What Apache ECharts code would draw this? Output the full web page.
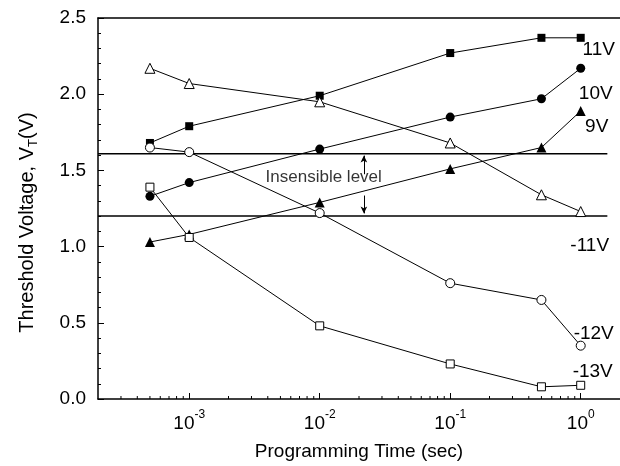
<!DOCTYPE html>
<html>
<head>
<meta charset="utf-8">
<script src="https://cdn.jsdelivr.net/npm/echarts@6/dist/echarts.min.js"></script>
<style>html,body{margin:0;padding:0;background:#fff}#c{width:620px;height:466px}</style>
</head>
<body>
<div id="c"></div>
<script>
// ---- data ----
const times = [5e-4, 1e-3, 1e-2, 1e-1, 5e-1, 1];
const seriesNames = ['11V', '10V', '9V', '-11V', '-12V', '-13V'];
const v11  = [1.68, 1.79, 1.99, 2.27, 2.37, 2.37];
const v10  = [1.33, 1.42, 1.64, 1.85, 1.97, 2.17];
const v9   = [1.03, 1.08, 1.29, 1.51, 1.65, 1.89];
const vm11 = [2.17, 2.07, 1.95, 1.68, 1.34, 1.23];
const vm12 = [1.65, 1.62, 1.22, 0.76, 0.65, 0.35];
const vm13 = [1.39, 1.06, 0.48, 0.23, 0.08, 0.09];
const levelUpper = 1.61;
const levelLower = 1.20;
const levelText = 'Insensible level';
const xMin = 2e-4, xMax = 2;
const levelXEnd = 1.6;
const yTicks = [0, 0.5, 1.0, 1.5, 2.0, 2.5];
const minorMultipliers = [2, 3, 4, 5, 6, 7, 8, 9];
const minorDecades = [1e-4, 1e-3, 1e-2, 1e-1];
const arrowX = 0.0218;
const arrowUp = [1.475, 1.597];
const arrowDown = [1.335, 1.218];
const textPos = [0.01073, 1.456];

// ---- styles ----
const FONT = '"Liberation Sans", Arial, sans-serif';
const values = [v11, v10, v9, vm11, vm12, vm13];
const symbols = ['rect', 'circle', 'triangle', 'triangle', 'circle', 'rect'];
const filled = [true, true, true, false, false, false];
const sizes = [8, 9, 10, 10, 9, 8];
const labelOffsets = [[18, 12], [15, 25], [16, 16], [9, 34], [13, -12], [12, -14]];

const xMinorTicks = [];
minorDecades.forEach(d => minorMultipliers.forEach(m => {
  const v = d * m;
  if (v > xMin && v < xMax) xMinorTicks.push(v);
}));

const series = values.map((vals, si) => ({
  name: seriesNames[si],
  type: 'line',
  symbol: symbols[si],
  symbolSize: sizes[si],
  showAllSymbol: true,
  z: 5,
  lineStyle: { color: '#000', width: 1 },
  itemStyle: filled[si] ? { color: '#000' } : { color: '#fff', borderColor: '#000', borderWidth: 1 },
  data: times.map((t, i) => {
    const item = { value: [t, vals[i]] };
    if (i === times.length - 1) {
      item.label = {
        show: true, position: 'inside', offset: labelOffsets[si],
        formatter: seriesNames[si], color: '#000', fontSize: 19, fontFamily: FONT
      };
    }
    return item;
  })
}));

[levelUpper, levelLower].forEach(lv => {
  series.push({
    type: 'line', symbol: 'none', silent: true, z: 3,
    lineStyle: { color: '#000', width: 1.5 },
    data: [[xMin, lv], [levelXEnd, lv]]
  });
});

series.push({
  type: 'scatter', symbolSize: 1, silent: true, z: 6,
  itemStyle: { color: 'rgba(0,0,0,0)' },
  label: { show: true, position: 'inside', formatter: levelText, color: '#000', fontSize: 17, fontFamily: FONT },
  data: [textPos],
  markLine: {
    silent: true, symbol: ['none', 'arrow'], symbolSize: [5, 7],
    lineStyle: { color: '#000', width: 1, type: 'solid' },
    label: { show: false },
    data: [
      [{ coord: [arrowX, arrowUp[0]] }, { coord: [arrowX, arrowUp[1]] }],
      [{ coord: [arrowX, arrowDown[0]] }, { coord: [arrowX, arrowDown[1]] }]
    ]
  }
});

series.push({
  type: 'custom', silent: true, z: 4, clip: false,
  encode: { x: 0, y: 1 },
  data: xMinorTicks.map(v => [v, 0]),
  renderItem: (params, api) => {
    const p = api.coord([api.value(0), 0]);
    return { type: 'line', shape: { x1: p[0], y1: p[1], x2: p[0], y2: p[1] - 3 },
             style: { stroke: '#000', lineWidth: 1 } };
  }
});

const chart = echarts.init(document.getElementById('c'), null, { renderer: 'canvas' });
chart.setOption({
  animation: false,
  backgroundColor: '#fff',
  grid: { left: 98, right: 0, top: 18, bottom: 65, containLabel: false },
  xAxis: [{
    type: 'log', logBase: 10, min: xMin, max: xMax,
    name: 'Programming Time (sec)', nameLocation: 'middle', nameGap: 43,
    nameTextStyle: { color: '#000', fontSize: 19, fontFamily: FONT },
    axisLine: { show: true, lineStyle: { color: '#000', width: 1.5 } },
    axisTick: { show: true, inside: true, length: 6, lineStyle: { color: '#000', width: 1 } },
    minorTick: { show: false },
    splitLine: { show: false },
    axisLabel: {
      showMinLabel: false, showMaxLabel: false, margin: 10,
      formatter: v => '{b|10}{s|' + Math.round(Math.log10(v)) + '}',
      rich: {
        b: { fontSize: 19, fontFamily: FONT, color: '#000', lineHeight: 24, verticalAlign: 'bottom' },
        s: { fontSize: 12, fontFamily: FONT, color: '#000', lineHeight: 24, verticalAlign: 'top' }
      }
    }
  }, {
    type: 'log', logBase: 10, min: xMin, max: xMax, position: 'top',
    axisLine: { show: true, lineStyle: { color: '#000', width: 1.5 } },
    axisTick: { show: false }, axisLabel: { show: false }, splitLine: { show: false }
  }],
  yAxis: {
    type: 'value', min: yTicks[0], max: yTicks[yTicks.length - 1], interval: 0.5,
    name: '{a|Threshold Voltage, V}{s|T}{a|(V)}', nameLocation: 'middle', nameGap: 58,
    nameTextStyle: {
      padding: [0, 28, 0, 0],
      rich: {
        a: { fontSize: 20, fontFamily: FONT, color: '#000', lineHeight: 26, verticalAlign: 'middle' },
        s: { fontSize: 13, fontFamily: FONT, color: '#000', lineHeight: 26, verticalAlign: 'bottom' }
      }
    },
    axisLine: { show: true, lineStyle: { color: '#000', width: 1.5 } },
    axisTick: { show: true, inside: true, length: 6, lineStyle: { color: '#000', width: 1 } },
    minorTick: { show: true, splitNumber: 5, length: 3, lineStyle: { color: '#000', width: 1 } },
    splitLine: { show: false },
    axisLabel: { color: '#000', fontSize: 19, fontFamily: FONT, margin: 12, formatter: v => v.toFixed(1) }
  },
  series: series
});
</script>
</body>
</html>
